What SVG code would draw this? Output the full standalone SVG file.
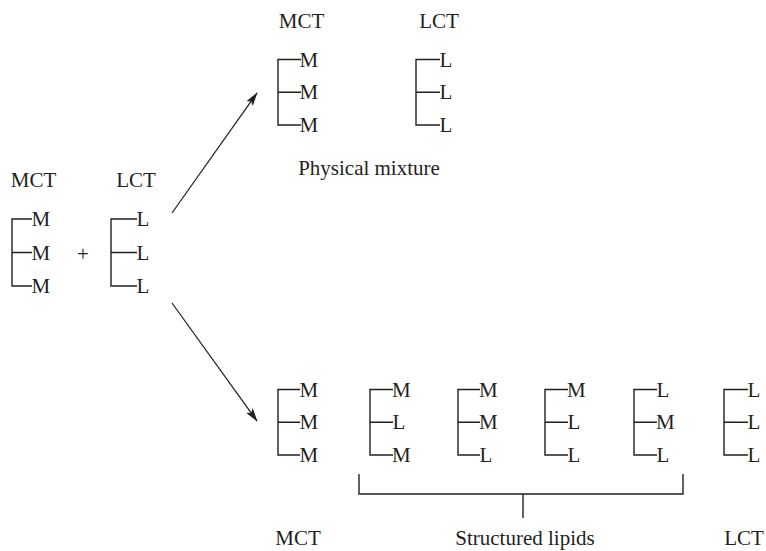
<svg xmlns="http://www.w3.org/2000/svg" width="766" height="551" viewBox="0 0 766 551">
<defs>
<style>
text{font-family:"Liberation Serif","Times New Roman",serif;font-size:21px;fill:#231f20}
.lab{text-anchor:middle}
.br{fill:none;stroke:#231f20;stroke-width:1.4}
.ar{fill:none;stroke:#231f20;stroke-width:1.2}
</style>
<marker id="ah" viewBox="0 0 14 8" refX="13" refY="4" markerWidth="14" markerHeight="8" markerUnits="userSpaceOnUse" orient="auto">
<path d="M0,0 L14,4 L0,8 L3,4 Z" fill="#231f20"/>
</marker>
</defs>
<rect width="766" height="551" fill="#fff"/>

<g id="left-mct">
<text class="lab" x="33.5" y="187">MCT</text>
<path class="br" d="M32,219 H12 V286 H32 M12,252.5 H32"/>
<text x="31.5" y="226">M</text><text x="31.5" y="259.5">M</text><text x="31.5" y="293">M</text>
</g>
<g id="plus"><text class="lab" x="83" y="261">+</text></g>
<g id="left-lct">
<text class="lab" x="136" y="187">LCT</text>
<path class="br" d="M137,219 H111 V286 H137 M111,252.5 H137"/>
<text x="136.5" y="226">L</text><text x="136.5" y="259.5">L</text><text x="136.5" y="293">L</text>
</g>

<g id="top-mct">
<text class="lab" x="301.5" y="28">MCT</text>
<path class="br" d="M301,59.5 H278 V125 H301 M278,92.3 H301"/>
<text x="299.5" y="66.5">M</text><text x="299.5" y="99.3">M</text><text x="299.5" y="132">M</text>
</g>
<g id="top-lct">
<text class="lab" x="439" y="28">LCT</text>
<path class="br" d="M440,59.5 H416 V125 H440 M416,92.3 H440"/>
<text x="439.5" y="66.5">L</text><text x="439.5" y="99.3">L</text><text x="439.5" y="132">L</text>
</g>
<g id="physical-mixture"><text class="lab" x="369" y="175">Physical mixture</text></g>

<g id="b1">
<path class="br" d="M300,389.5 H278 V455 H300 M278,422.3 H300"/>
<text x="299.5" y="396.5">M</text><text x="299.5" y="429.3">M</text><text x="299.5" y="462">M</text>
</g>
<g id="b2">
<path class="br" d="M393,389.5 H370 V455 H393 M370,422.3 H393"/>
<text x="392" y="396.5">M</text><text x="392.5" y="429.3">L</text><text x="392" y="462">M</text>
</g>
<g id="b3">
<path class="br" d="M480,389.5 H458 V455 H480 M458,422.3 H480"/>
<text x="479" y="396.5">M</text><text x="479" y="429.3">M</text><text x="479.5" y="462">L</text>
</g>
<g id="b4">
<path class="br" d="M568,389.5 H545 V455 H568 M545,422.3 H568"/>
<text x="567" y="396.5">M</text><text x="567.5" y="429.3">L</text><text x="567.5" y="462">L</text>
</g>
<g id="b5">
<path class="br" d="M657,389.5 H634 V455 H657 M634,422.3 H657"/>
<text x="656.5" y="396.5">L</text><text x="656" y="429.3">M</text><text x="656.5" y="462">L</text>
</g>
<g id="b6">
<path class="br" d="M748,389.5 H724 V455 H748 M724,422.3 H748"/>
<text x="747.5" y="396.5">L</text><text x="747.5" y="429.3">L</text><text x="747.5" y="462">L</text>
</g>

<g id="structured-bracket">
<path class="br" d="M359,474 V494 H683 V474 M523,494 V518"/>
</g>

<g id="bottom-labels">
<text class="lab" x="298" y="545">MCT</text>
<text class="lab" x="525" y="545">Structured lipids</text>
<text class="lab" x="744" y="545">LCT</text>
</g>

<g id="connectors">
<line class="ar" x1="172" y1="213" x2="257" y2="93" marker-end="url(#ah)"/>
<line class="ar" x1="172" y1="303" x2="257" y2="421" marker-end="url(#ah)"/>
</g>
</svg>
